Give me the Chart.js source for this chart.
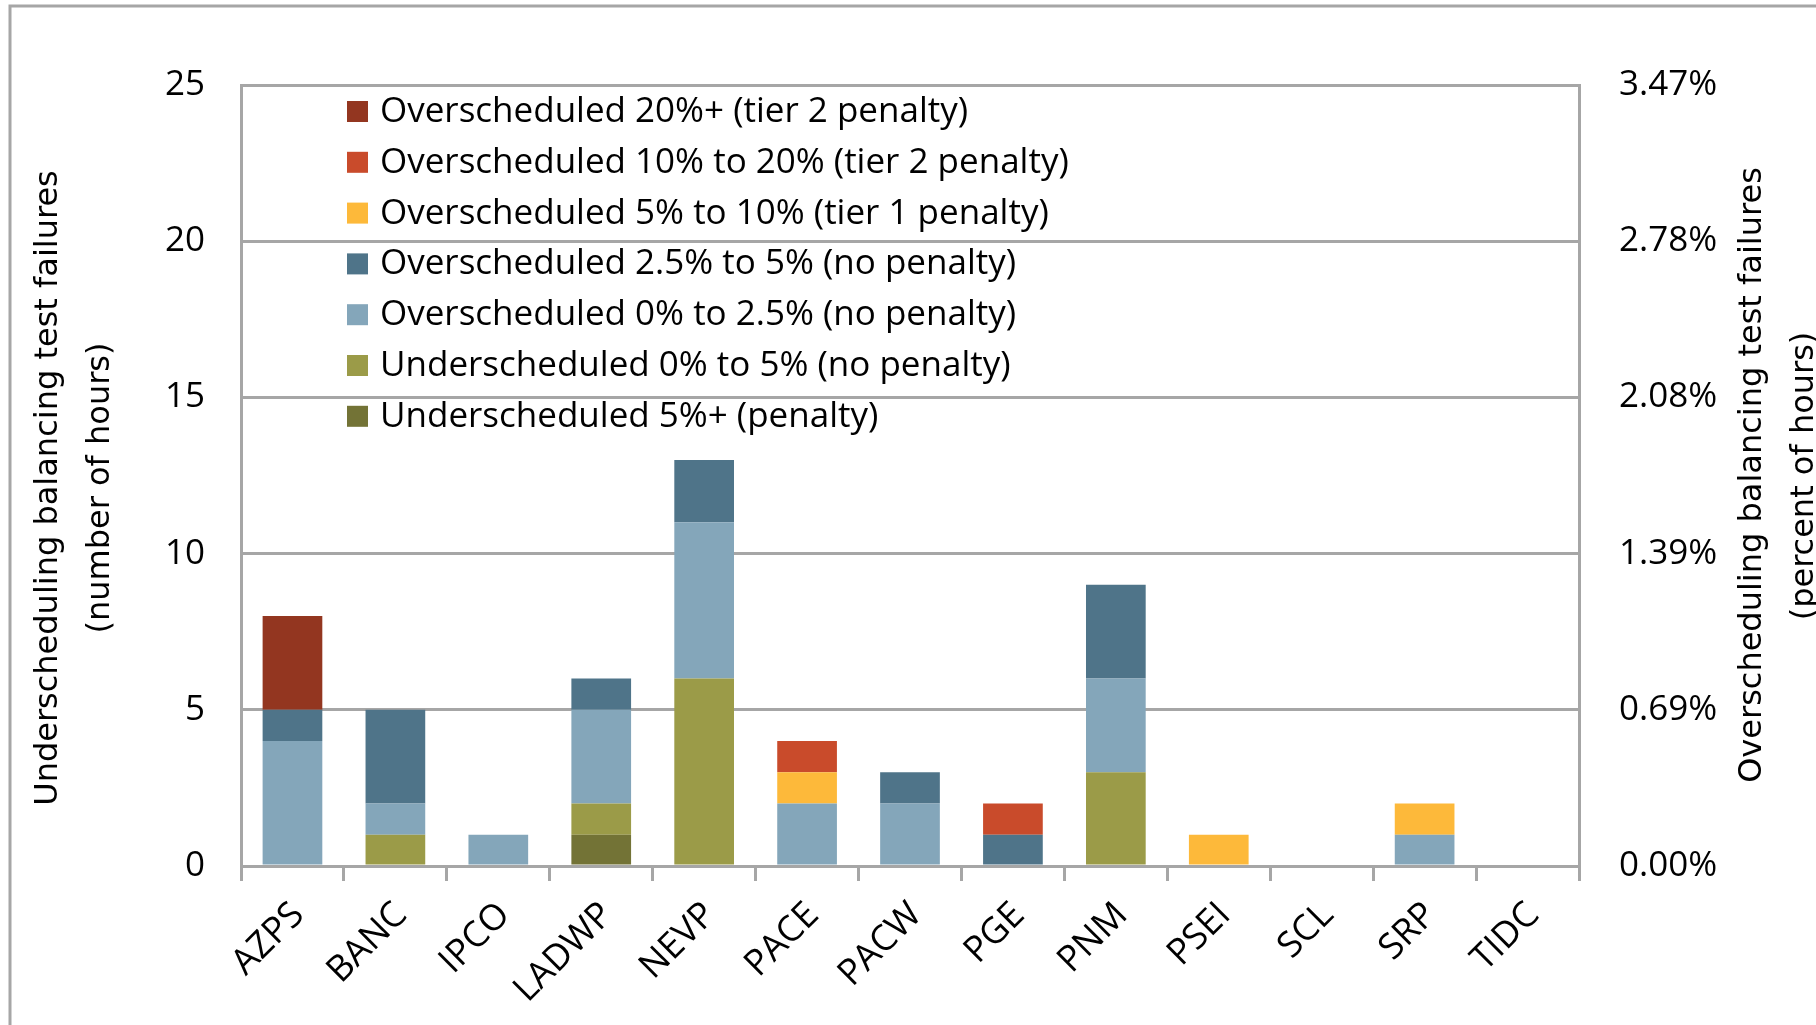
<!DOCTYPE html>
<html>
<head>
<meta charset="utf-8">
<script src="https://cdn.jsdelivr.net/npm/chart.js@4.4.0/dist/chart.umd.min.js"></script>
<style>
  html, body { margin: 0; padding: 0; background: #fff; }
  #wrap { width: 1816px; height: 1025px; position: relative; }
</style>
</head>
<body>
<div id="wrap"><canvas id="chart"></canvas></div>
<script>
// Balancing test failures by BAA (hours)
const categories = ['AZPS','BANC','IPCO','LADWP','NEVP','PACE','PACW','PGE','PNM','PSEI','SCL','SRP','TIDC'];

// stacked bottom -> top
const under5plus = [0,0,0,1,0,0,0,0,0,0,0,0,0];
const under0to5  = [0,1,0,1,6,0,0,0,3,0,0,0,0];
const over0to25  = [4,1,1,3,5,2,2,0,3,0,0,1,0];
const over25to5  = [1,3,0,1,2,0,1,1,3,0,0,0,0];
const over5to10  = [0,0,0,0,0,1,0,0,0,1,0,1,0];
const over10to20 = [0,0,0,0,0,1,0,1,0,0,0,0,0];
const over20plus = [3,0,0,0,0,0,0,0,0,0,0,0,0];

const seriesLabels = [
  'Underscheduled 5%+ (penalty)',
  'Underscheduled 0% to 5% (no penalty)',
  'Overscheduled 0% to 2.5% (no penalty)',
  'Overscheduled 2.5% to 5% (no penalty)',
  'Overscheduled 5% to 10% (tier 1 penalty)',
  'Overscheduled 10% to 20% (tier 2 penalty)',
  'Overscheduled 20%+ (tier 2 penalty)'
];
const seriesColors = ['#737336','#9b9b48','#84a6ba','#4f7489','#fdb93a','#c94b2b','#933620'];
const seriesValues = [under5plus, under0to5, over0to25, over25to5, over5to10, over10to20, over20plus];

const leftTicks = [0,5,10,15,20,25];
const rightTickLabels = ['0.00%','0.69%','1.39%','2.08%','2.78%','3.47%'];

const leftTitle = ['Underscheduling balancing test failures', '(number of hours)'];
const rightTitle = ['Overscheduling balancing test failures', '(percent of hours)'];

const GRID = '#a6a6a6';
Chart.defaults.font.family = "'Open Sans', sans-serif";
Chart.defaults.color = '#000';

function vtext(ctx, txt, x, y) {
  ctx.save();
  ctx.translate(x, y);
  ctx.rotate(-Math.PI / 2);
  ctx.textAlign = 'center';
  ctx.textBaseline = 'middle';
  ctx.fillText(txt, 0, 0);
  ctx.restore();
}

const extras = {
  id: 'extras',
  beforeDraw(chart) {
    const ctx = chart.ctx;
    ctx.save();
    ctx.fillStyle = '#fff';
    ctx.fillRect(0, 0, chart.width, chart.height);
    ctx.strokeStyle = GRID;
    ctx.lineWidth = 3;
    ctx.beginPath();
    ctx.moveTo(10, chart.height + 5);
    ctx.lineTo(10, 6);
    ctx.lineTo(chart.width + 5, 6);
    ctx.stroke();
    ctx.restore();
  },
  afterDraw(chart) {
    const ctx = chart.ctx;
    ctx.save();
    ctx.fillStyle = '#000';
    ctx.font = "32px 'DejaVu Sans'";
    vtext(ctx, leftTitle[0], 49, 488);
    vtext(ctx, leftTitle[1], 101, 488);
    vtext(ctx, rightTitle[0], 1753, 475);
    vtext(ctx, rightTitle[1], 1805, 476);

    // legend, top entry = last stacked series
    const ds = chart.data.datasets;
    ctx.font = "35px 'Open Sans'";
    ctx.textAlign = 'left';
    ctx.textBaseline = 'middle';
    for (let i = 0; i < ds.length; i++) {
      const d = ds[ds.length - 1 - i];
      const cy = 111 + i * 50.8;
      ctx.fillStyle = d.backgroundColor;
      ctx.fillRect(347, cy - 10, 21, 21);
      ctx.fillStyle = '#000';
      ctx.fillText(d.label, 380, cy + 1);
    }
    ctx.restore();
  }
};

new Chart(document.getElementById('chart'), {
  type: 'bar',
  data: {
    labels: categories,
    datasets: seriesValues.map((vals, i) => ({
      label: seriesLabels[i],
      data: vals,
      backgroundColor: seriesColors[i],
      borderWidth: 0,
      barPercentage: 0.58,
      categoryPercentage: 1,
      yAxisID: 'y'
    }))
  },
  options: {
    responsive: true,
    maintainAspectRatio: false,
    animation: false,
    devicePixelRatio: 1,
    layout: { padding: { top: 85, left: 0, right: 0, bottom: 0 } },
    plugins: { legend: { display: false }, tooltip: { enabled: false } },
    scales: {
      x: {
        stacked: true,
        afterFit(s) { s.height = 159; },
        grid: { offset: true, drawOnChartArea: false, drawTicks: true, tickLength: 15, color: GRID, lineWidth: 3 },
        border: { display: true, color: GRID, width: 3 },
        ticks: { font: { size: 36 }, maxRotation: 45, minRotation: 45, padding: 13, labelOffset: 6, autoSkip: false }
      },
      y: {
        stacked: true,
        position: 'left',
        min: 0, max: 25,
        afterFit(s) { s.width = 241; },
        afterBuildTicks(s) { s.ticks = leftTicks.map(v => ({ value: v })); },
        grid: { color: GRID, lineWidth: 3, drawTicks: false },
        border: { display: true, color: GRID, width: 3 },
        ticks: { font: { size: 35 }, padding: 36 }
      },
      y1: {
        position: 'right',
        min: 0, max: 25,
        afterFit(s) { s.width = 237; },
        afterBuildTicks(s) { s.ticks = leftTicks.map(v => ({ value: v })); },
        grid: { drawOnChartArea: false, drawTicks: false },
        border: { display: true, color: GRID, width: 3 },
        ticks: { font: { size: 35 }, padding: 40, callback: (v, i) => rightTickLabels[i] }
      }
    }
  },
  plugins: [extras]
});
</script>
</body>
</html>
